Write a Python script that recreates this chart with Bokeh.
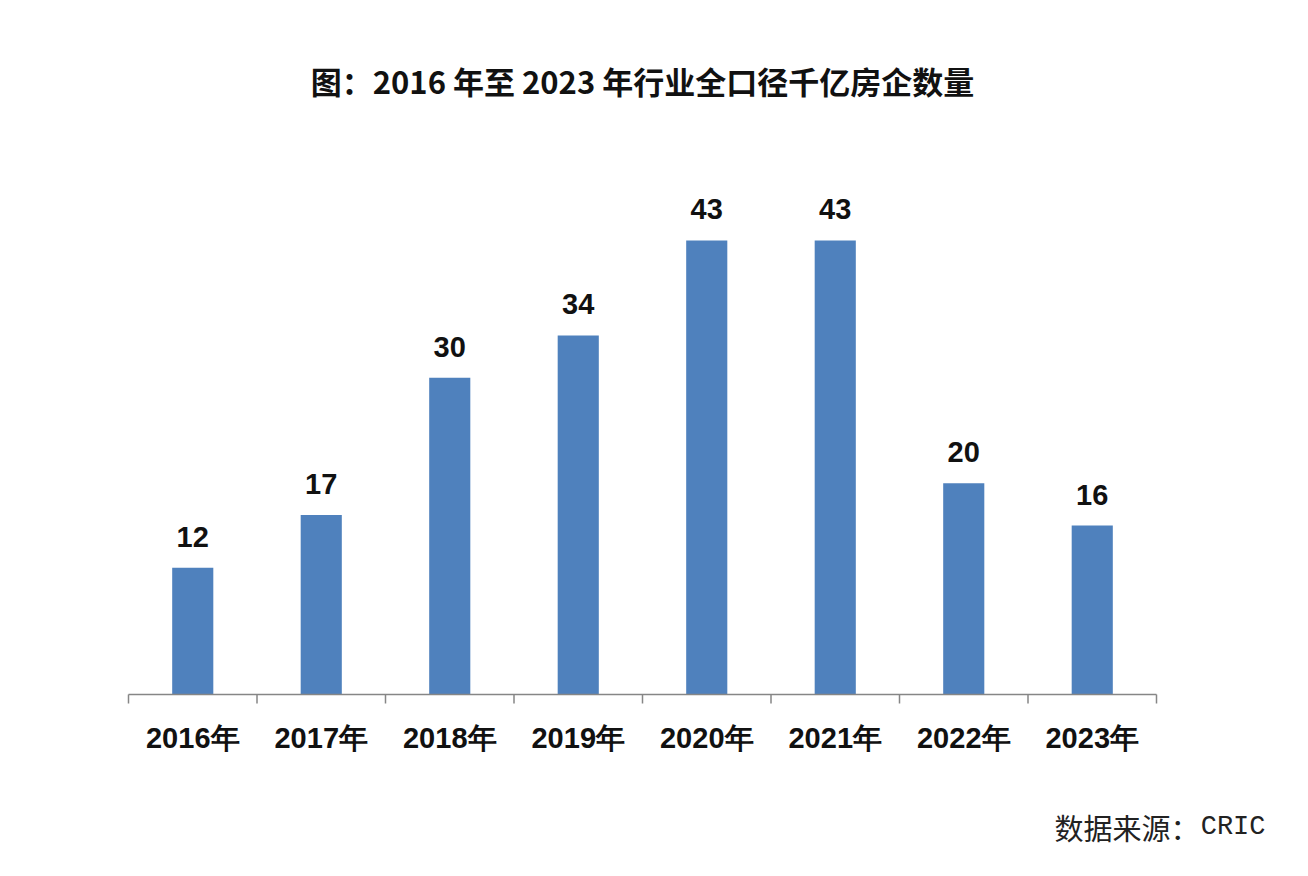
from bokeh.plotting import figure
from bokeh.models import ColumnDataSource, Range1d
from bokeh.core.properties import value
from bokeh.embed import file_html
from bokeh.resources import INLINE

years = ["2016年", "2017年", "2018年", "2019年", "2020年", "2021年", "2022年", "2023年"]
counts = [12, 17, 30, 34, 43, 43, 20, 16]
title_text = "图：2016 年至 2023 年行业全口径千亿房企数量"
source_prefix = "数据来源："
source_name = "CRIC"

W, H = 1292, 860
PX_X = 128.5          # pixels per category
PX_Y = 10.56          # pixels per unit
LEFT = 128            # frame x of first category boundary
BASE = 694            # pixel y of baseline

n = len(years)
idx = list(range(n))
x0 = -0.5 - LEFT / PX_X
x1 = x0 + W / PX_X
y1 = BASE / PX_Y
y0 = y1 - H / PX_Y

src = ColumnDataSource(dict(x=idx, top=counts, lbl=[str(c) for c in counts], year=years,
                            zero=[0] * n))

p = figure(width=W, height=H, output_backend="svg", toolbar_location=None,
           x_range=Range1d(x0, x1), y_range=Range1d(y0, y1),
           min_border=0, min_border_left=0, min_border_right=0,
           min_border_top=0, min_border_bottom=0)
p.outline_line_color = None
p.axis.visible = False
p.grid.visible = False
p.background_fill_color = "white"
p.border_fill_color = "white"

p.vbar(x="x", top="top", width=0.32, source=src, fill_color="#4F81BD", line_color=None)

# category axis: baseline and boundary ticks
bounds = [i - 0.5 for i in range(n + 1)]
tick_len = 9 / PX_Y
p.segment(x0=[-0.5], y0=[0], x1=[n - 0.5], y1=[0], line_color="#868686", line_width=1.5)
p.segment(x0=bounds, y0=[0] * len(bounds), x1=bounds, y1=[-tick_len] * len(bounds),
          line_color="#868686", line_width=1.5)

p.text(x="x", y="top", text="lbl", source=src, y_offset=-31,
       text_align="center", text_baseline="middle",
       text_font=value("Liberation Sans"), text_font_style="bold", text_font_size="29px",
       text_color="#111111")
p.text(x="x", y="zero", text="year", source=src, y_offset=43,
       text_align="center", text_baseline="middle",
       text_font=value("Liberation Sans"), text_font_style="bold", text_font_size="29px",
       text_color="#111111")

p.text(x=[(n - 1) / 2], y=[(BASE - 80) / PX_Y], text=[title_text], text_align="center",
       text_baseline="middle", text_font=value("Noto Sans CJK SC"), text_font_style="bold",
       text_font_size="31px", text_color="#111111")
p.text(x=[-0.5 + (1199 - LEFT) / PX_X], y=[-(826 - BASE) / PX_Y], text=[source_prefix],
       text_align="right", text_baseline="middle", text_font=value("Noto Sans CJK SC"),
       text_font_size="29px", text_color="#222222")
p.text(x=[-0.5 + (1265 - LEFT) / PX_X], y=[-(826 - BASE) / PX_Y], text=[source_name],
       text_align="right", text_baseline="middle", text_font=value("Liberation Mono"),
       text_font_size="27px", text_color="#222222")

open("out.html", "w").write(file_html(p, INLINE))
